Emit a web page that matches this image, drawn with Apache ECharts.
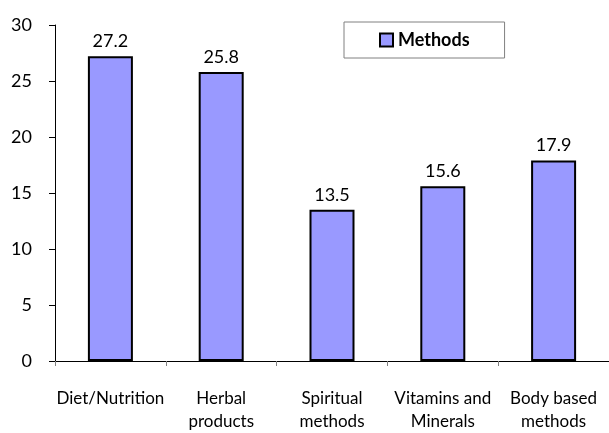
<!DOCTYPE html>
<html>
<head>
<meta charset="utf-8">
<script src="https://cdn.jsdelivr.net/npm/echarts@6/dist/echarts.min.js"></script>
<style>
html,body{margin:0;padding:0;background:#fff;}
#c{width:609px;height:433px;}
</style>
</head>
<body>
<div id="c"></div>
<script>
const categories = ["Diet/Nutrition", "Herbal\nproducts", "Spiritual\nmethods", "Vitamins and\nMinerals", "Body based\nmethods"];
const methodsValues = [27.2, 25.8, 13.5, 15.6, 17.9];
const seriesName = "Methods";
const yTicks = { min: 0, max: 30, interval: 5 };

const FONT = "Lato";
const chart = echarts.init(document.getElementById('c'), null, { renderer: 'canvas' });
chart.setOption({
  animation: false,
  backgroundColor: '#fff',
  textStyle: { fontFamily: FONT },
  grid: { left: 55, right: -2, top: 25, bottom: 66, containLabel: false },
  legend: {
    data: [seriesName],
    left: 344, top: 22,
    padding: [9, 35, 9, 35],
    backgroundColor: '#fff',
    borderColor: '#808080',
    borderWidth: 1,
    itemWidth: 13, itemHeight: 13,
    icon: 'rect',
    itemStyle: { borderColor: '#000', borderWidth: 2 },
    textStyle: { fontFamily: FONT, fontSize: 18, fontWeight: 'bold', color: '#000' }
  },
  xAxis: {
    type: 'category',
    data: categories,
    axisLine: { lineStyle: { color: '#000', width: 1 } },
    axisTick: { show: true, length: 5, lineStyle: { color: '#808080' } },
    axisLabel: { color: '#000', fontFamily: FONT, fontSize: 17, margin: 26, lineHeight: 23, interval: 0 },
    splitLine: { show: false }
  },
  yAxis: {
    type: 'value',
    min: yTicks.min, max: yTicks.max, interval: yTicks.interval,
    axisLine: { show: true, lineStyle: { color: '#000', width: 1 } },
    axisTick: { show: true, length: 6, lineStyle: { color: '#000' } },
    axisLabel: { color: '#000', fontFamily: FONT, fontSize: 18, margin: 23 },
    splitLine: { show: false }
  },
  series: [{
    name: seriesName,
    type: 'bar',
    data: methodsValues,
    barWidth: 45,
    itemStyle: { color: '#9999FF', borderColor: '#000', borderWidth: 2 },
    label: {
      show: true, position: 'top', distance: 6,
      color: '#000', fontFamily: FONT, fontSize: 18,
      formatter: p => p.value.toFixed(1)
    }
  }]
});
</script>
</body>
</html>
